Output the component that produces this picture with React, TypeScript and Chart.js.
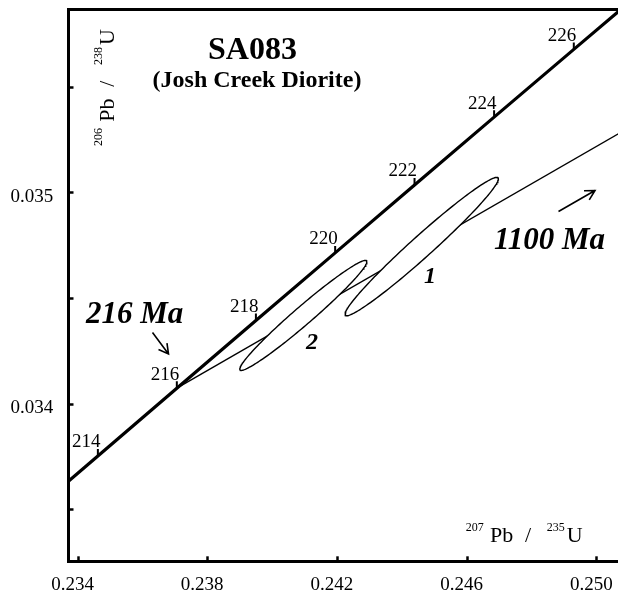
import React, { useEffect, useRef } from "react";
import { Chart, registerables } from "chart.js";

Chart.register(...registerables);

// ---- Data ----
// Concordia curve points (age in Ma, 207Pb/235U, 206Pb/238U)
const concordiaAges = [210, 212, 214, 216, 218, 220, 222, 224, 226, 228, 230];
const concordiaX = [0.229759, 0.232184, 0.234613, 0.237048, 0.239487, 0.241931, 0.244379, 0.246833, 0.249291, 0.251754, 0.254222];
const concordiaY = [0.033113, 0.033433, 0.033754, 0.034075, 0.034396, 0.034716, 0.035038, 0.035359, 0.03568, 0.036001, 0.036323];
const labeledAges = [214, 216, 218, 220, 222, 224, 226];

// Discordia: lower intercept (216 Ma) to upper intercept (1100 Ma)
const discordiaAges = [216, 1100];
const discordiaX = [0.237048, 1.954517];
const discordiaY = [0.034075, 0.186061];

// Analyses (error ellipses): centre, half-extents, correlation
const ellipseLabels = ["1", "2"];
const ellipseX = [0.2446, 0.24095];
const ellipseSigX = [0.002365, 0.00196];
const ellipseY = [0.034746, 0.03442];
const ellipseSigY = [0.0003277, 0.0002604];
const ellipseRho = [0.978, 0.976];

// Axes
const xTickValues = [0.234, 0.238, 0.242, 0.246, 0.25];
const yTickValues = [0.0335, 0.034, 0.0345, 0.035, 0.0355];
const yLabeledTicks = [0.034, 0.035];
const xMin = 0.233707;
const xMax = 0.250654;
const yMin = 0.0332552;
const yMax = 0.0358689;

const FONT = "'Liberation Serif', 'Times New Roman', serif";

function buildEllipse(i: number) {
  const pts: { x: number; y: number }[] = [];
  const n = 180;
  const s = Math.sqrt(1 - ellipseRho[i] * ellipseRho[i]);
  for (let k = 0; k <= n; k++) {
    const t = (2 * Math.PI * k) / n;
    pts.push({
      x: ellipseX[i] + ellipseSigX[i] * Math.cos(t),
      y: ellipseY[i] + ellipseSigY[i] * (ellipseRho[i] * Math.cos(t) + s * Math.sin(t)),
    });
  }
  return pts;
}

// The discordia chord between the two intercepts, cut just beyond the plot's right edge
// (Chart.js clamps far-off pixels, so the far intercept cannot be drawn directly).
function discordiaSegment() {
  const xEnd = xMax + 0.002;
  const t = (xEnd - discordiaX[0]) / (discordiaX[1] - discordiaX[0]);
  return [
    { x: discordiaX[0], y: discordiaY[0] },
    { x: xEnd, y: discordiaY[0] + t * (discordiaY[1] - discordiaY[0]) },
  ];
}

function arrow(ctx: CanvasRenderingContext2D, x1: number, y1: number, x2: number, y2: number, head = 11) {
  const ang = Math.atan2(y2 - y1, x2 - x1);
  const spread = 0.5;
  ctx.beginPath();
  ctx.moveTo(x1, y1);
  ctx.lineTo(x2, y2);
  ctx.moveTo(x2 - head * Math.cos(ang - spread), y2 - head * Math.sin(ang - spread));
  ctx.lineTo(x2, y2);
  ctx.lineTo(x2 - head * Math.cos(ang + spread), y2 - head * Math.sin(ang + spread));
  ctx.stroke();
}

type Piece = { text: string; off: number; sup: boolean };
const isotopePieces = (a: string, b: string): Piece[] => [
  { text: a, off: 0, sup: true },
  { text: "Pb", off: 24.3, sup: false },
  { text: "/", off: 59.3, sup: false },
  { text: b, off: 81, sup: true },
  { text: "U", off: 101, sup: false },
];

function drawPieces(ctx: CanvasRenderingContext2D, pieces: Piece[], size: number, supSize: number, raise: number) {
  ctx.textAlign = "left";
  ctx.textBaseline = "alphabetic";
  for (const p of pieces) {
    ctx.font = `${p.sup ? supSize : size}px ${FONT}`;
    ctx.fillText(p.text, p.off, p.sup ? -raise : 0);
  }
}

const decor = {
  id: "decor",
  afterDatasetsDraw(chart: any) {
    const { ctx, chartArea: a, scales } = chart;
    const xs = scales.x;
    const ys = scales.y;
    ctx.save();
    ctx.strokeStyle = "#000";
    ctx.fillStyle = "#000";

    // top frame line
    ctx.lineWidth = 3;
    ctx.beginPath();
    ctx.moveTo(a.left - 1.5, a.top);
    ctx.lineTo(a.right, a.top);
    ctx.stroke();

    ctx.save();
    ctx.beginPath();
    ctx.rect(a.left, a.top, a.right - a.left, a.bottom - a.top);
    ctx.clip();

    // concordia age ticks and labels
    ctx.lineWidth = 2;
    ctx.font = `19px ${FONT}`;
    ctx.textAlign = "right";
    ctx.textBaseline = "alphabetic";
    labeledAges.forEach((age) => {
      const i = concordiaAges.indexOf(age);
      const px = xs.getPixelForValue(concordiaX[i]);
      const py = ys.getPixelForValue(concordiaY[i]);
      ctx.beginPath();
      ctx.moveTo(px, py);
      ctx.lineTo(px, py - 7);
      ctx.stroke();
      ctx.fillText(String(age), px + 2.5, py - 8.5);
    });

    // ellipse labels
    ctx.font = `italic bold 24px ${FONT}`;
    ctx.textAlign = "left";
    ctx.fillText(ellipseLabels[0], 424, 283);
    ctx.fillText(ellipseLabels[1], 306, 349);

    // intercept annotations
    ctx.font = `italic bold 31px ${FONT}`;
    ctx.fillText(`${discordiaAges[0]} Ma`, 86, 322.5);
    ctx.fillText(`${discordiaAges[1]} Ma`, 494, 249);
    ctx.lineWidth = 1.6;
    arrow(ctx, 152.5, 332.5, 168.5, 354);
    arrow(ctx, 558.5, 211.5, 595, 190.5);

    // title
    ctx.textAlign = "center";
    ctx.font = `bold 32px ${FONT}`;
    ctx.fillText("SA083", 252.5, 59.3);
    ctx.font = `bold 24px ${FONT}`;
    ctx.fillText("(Josh Creek Diorite)", 257, 86.7);

    // x-axis title
    ctx.save();
    ctx.translate(465.7, 541.7);
    drawPieces(ctx, isotopePieces("207", "235"), 22, 12, 11);
    ctx.restore();

    // y-axis title (rotated)
    ctx.save();
    ctx.translate(114, 146);
    ctx.rotate(-Math.PI / 2);
    drawPieces(ctx, isotopePieces("206", "238"), 22, 12, 12);
    ctx.restore();

    ctx.restore();
    ctx.restore();
  },
};

export default function App() {
  const ref = useRef<HTMLCanvasElement>(null);
  useEffect(() => {
    const canvas = ref.current!;
    const ellipseSets = ellipseLabels.map((lab, i) => ({
      label: `Analysis ${lab}`,
      data: buildEllipse(i),
      showLine: true,
      borderColor: "#000",
      borderWidth: 1.4,
      backgroundColor: "#fff",
      fill: "shape" as any,
      pointRadius: 0,
      tension: 0,
      order: 1,
    }));
    const chart = new Chart(canvas, {
      type: "scatter",
      data: {
        datasets: [
          {
            label: "Concordia",
            data: concordiaX.map((v, i) => ({ x: v, y: concordiaY[i] })),
            showLine: true,
            borderColor: "#000",
            borderWidth: 3.2,
            pointRadius: 0,
            tension: 0,
            fill: false,
            order: 0,
          },
          ...ellipseSets,
          {
            label: "Discordia",
            data: discordiaSegment(),
            showLine: true,
            borderColor: "#000",
            borderWidth: 1.4,
            pointRadius: 0,
            fill: false,
            order: 2,
          },
        ] as any,
      },
      options: {
        responsive: false,
        animation: false,
        events: [],
        layout: { padding: { top: 9.5, left: 0, right: 0, bottom: 0 } },
        plugins: {
          legend: { display: false },
          tooltip: { enabled: false },
          title: { display: false },
        },
        scales: {
          x: {
            type: "linear",
            position: "bottom",
            min: xMin,
            max: xMax,
            afterBuildTicks: (s: any) => {
              s.ticks = xTickValues.map((v) => ({ value: v }));
            },
            afterFit: (s: any) => {
              s.height = 34.7;
              s.paddingLeft = 0;
              s.paddingRight = 0;
            },
            border: { display: true, width: 3, color: "#000" },
            grid: {
              display: true,
              drawOnChartArea: false,
              drawTicks: true,
              tickLength: -5,
              tickWidth: 2.5,
              tickColor: "#000",
            },
            ticks: {
              autoSkip: false,
              maxRotation: 0,
              padding: 17.3,
              labelOffset: -5.5,
              color: "#000",
              font: { size: 19, family: FONT },
              callback: (v: any) => Number(v).toFixed(3),
            },
          },
          y: {
            type: "linear",
            position: "left",
            min: yMin,
            max: yMax,
            afterBuildTicks: (s: any) => {
              s.ticks = yTickValues.map((v) => ({ value: v }));
            },
            afterFit: (s: any) => {
              s.width = 68.5;
              s.paddingTop = 0;
              s.paddingBottom = 0;
            },
            border: { display: true, width: 3, color: "#000" },
            grid: {
              display: true,
              drawOnChartArea: false,
              drawTicks: true,
              tickLength: -5,
              tickWidth: 2.5,
              tickColor: "#000",
            },
            ticks: {
              autoSkip: false,
              padding: 20.2,
              labelOffset: 4.3,
              color: "#000",
              font: { size: 19, family: FONT },
              callback: (v: any) =>
                yLabeledTicks.some((t) => Math.abs(t - Number(v)) < 1e-9) ? Number(v).toFixed(3) : "",
            },
          },
        },
      } as any,
      plugins: [decor],
    });
    return () => chart.destroy();
  }, []);
  return (
    <div style={{ position: "absolute", left: 0, top: 0, width: 618, height: 596, background: "#fff" }}>
      <canvas ref={ref} width={618} height={596} style={{ display: "block" }} />
    </div>
  );
}
